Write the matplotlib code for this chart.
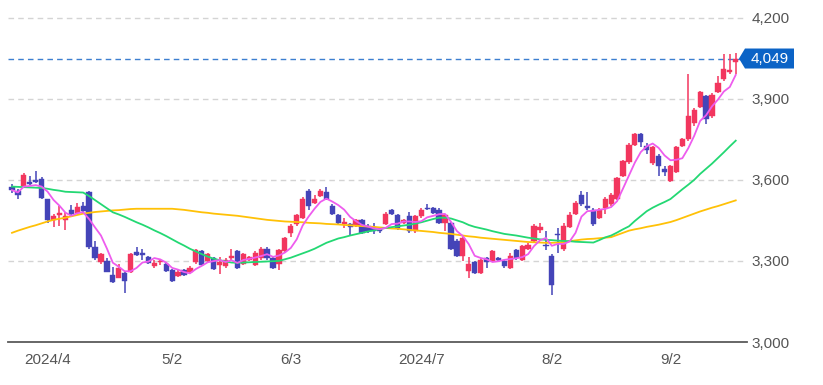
import matplotlib
matplotlib.use("Agg")
import matplotlib.pyplot as plt
import numpy as np
import pandas as pd
from matplotlib.patches import Polygon
from matplotlib.transforms import blended_transform_factory

# ---------------- data ----------------
opens = [3572, 3560, 3578, 3592, 3600, 3604, 3528, 3452, 3470, 3452,
         3488, 3478, 3505, 3555, 3350, 3295, 3300, 3248, 3237, 3255,
         3258, 3332, 3328, 3315, 3280, 3295, 3290, 3265, 3245, 3265,
         3258, 3295, 3335, 3300, 3310, 3285, 3280, 3310, 3335, 3290,
         3305, 3285, 3310, 3345, 3310, 3290, 3335, 3405, 3435, 3460,
         3560, 3515, 3540, 3555, 3505, 3470, 3438, 3435, 3430, 3450,
         3430, 3425, 3420, 3437, 3488, 3470, 3440, 3465, 3410, 3465,
         3497, 3495, 3490, 3440, 3440, 3375, 3317, 3262, 3295, 3255,
         3310, 3300, 3310, 3300, 3275, 3340, 3305, 3345, 3375, 3415,
         3360, 3320, 3400, 3345, 3425, 3475, 3545, 3505, 3490, 3460,
         3495, 3510, 3530, 3615, 3665, 3730, 3770, 3725, 3663, 3690,
         3640, 3597, 3630, 3725, 3750, 3810, 3870, 3910, 3835, 3925,
         3975, 4000, 4035]
highs = [3585, 3565, 3625, 3615, 3634, 3610, 3530, 3472, 3505, 3480,
         3508, 3515, 3518, 3560, 3375, 3330, 3310, 3278, 3288, 3262,
         3328, 3352, 3345, 3320, 3305, 3305, 3295, 3270, 3265, 3270,
         3280, 3345, 3340, 3330, 3315, 3315, 3310, 3345, 3340, 3330,
         3320, 3335, 3350, 3350, 3315, 3345, 3390, 3435, 3475, 3535,
         3565, 3545, 3565, 3575, 3510, 3475, 3460, 3440, 3455, 3455,
         3435, 3440, 3425, 3480, 3492, 3475, 3455, 3482, 3470, 3495,
         3510, 3500, 3495, 3475, 3445, 3380, 3390, 3315, 3300, 3310,
         3315, 3340, 3315, 3305, 3330, 3345, 3360, 3365, 3435, 3440,
         3410, 3325, 3420, 3440, 3480, 3520, 3560, 3555, 3495, 3495,
         3535, 3550, 3610, 3675, 3735, 3775, 3775, 3735, 3725, 3695,
         3650, 3655, 3725, 3755, 3990, 3865, 3930, 3915, 3920, 3985,
         4065, 4065, 4070]
lows = [3550, 3528, 3575, 3580, 3590, 3530, 3440, 3425, 3430, 3415,
        3470, 3475, 3480, 3345, 3305, 3288, 3258, 3218, 3235, 3182,
        3255, 3318, 3305, 3290, 3275, 3285, 3260, 3222, 3240, 3245,
        3255, 3290, 3280, 3295, 3265, 3250, 3275, 3305, 3270, 3285,
        3300, 3280, 3305, 3305, 3270, 3265, 3330, 3390, 3430, 3455,
        3490, 3510, 3535, 3525, 3470, 3435, 3420, 3395, 3425, 3400,
        3405, 3400, 3405, 3432, 3470, 3415, 3435, 3405, 3405, 3460,
        3488, 3472, 3435, 3410, 3340, 3315, 3300, 3238, 3250, 3250,
        3275, 3295, 3300, 3275, 3270, 3305, 3300, 3340, 3370, 3405,
        3340, 3175, 3330, 3335, 3420, 3470, 3505, 3490, 3430, 3455,
        3475, 3505, 3525, 3610, 3660, 3725, 3720, 3695, 3655, 3615,
        3615, 3592, 3625, 3720, 3745, 3800, 3865, 3805, 3830, 3920,
        3965, 3990, 3990]
closes = [3562, 3545, 3618, 3585, 3593, 3534, 3452, 3465, 3478, 3465,
          3475, 3500, 3485, 3350, 3310, 3325, 3260, 3222, 3275, 3227,
          3325, 3322, 3322, 3292, 3292, 3300, 3262, 3225, 3260, 3248,
          3275, 3342, 3285, 3325, 3270, 3295, 3305, 3318, 3275, 3325,
          3315, 3330, 3345, 3310, 3275, 3340, 3385, 3430, 3470, 3530,
          3505, 3530, 3558, 3530, 3475, 3440, 3445, 3425, 3450, 3405,
          3412, 3410, 3410, 3475, 3475, 3420, 3450, 3410, 3465, 3490,
          3492, 3477, 3440, 3470, 3345, 3320, 3385, 3290, 3255, 3305,
          3295, 3335, 3305, 3280, 3320, 3310, 3355, 3360, 3430, 3425,
          3355, 3210, 3395, 3430, 3470, 3515, 3510, 3497, 3435, 3490,
          3530, 3545, 3605, 3670, 3730, 3770, 3740, 3710, 3722, 3650,
          3630, 3650, 3720, 3750, 3835, 3860, 3925, 3825, 3915, 3960,
          4010, 4008, 4049]

ma25 = [3575, 3574, 3573, 3572, 3571, 3570, 3567, 3563, 3560, 3556,
        3555, 3554, 3553, 3540, 3525, 3510, 3495, 3480, 3472, 3463,
        3453, 3443, 3434, 3424, 3413, 3403, 3392, 3380, 3368, 3357,
        3345, 3335, 3325, 3316, 3308, 3303, 3298, 3294, 3293, 3294,
        3295, 3296, 3297, 3298, 3299, 3300, 3306, 3312, 3320, 3328,
        3336, 3345, 3356, 3367, 3375, 3383, 3388, 3394, 3399, 3404,
        3409, 3413, 3418, 3422, 3425, 3428, 3431, 3434, 3438, 3443,
        3449, 3455, 3460, 3460, 3457, 3450, 3443, 3433, 3426, 3421,
        3416, 3410, 3405, 3400, 3397, 3394, 3390, 3386, 3383, 3380,
        3378, 3377, 3375, 3374, 3373, 3371, 3370, 3369, 3368, 3377,
        3387, 3394, 3405, 3417, 3428, 3448, 3466, 3484, 3497, 3508,
        3518, 3529, 3547, 3565, 3582, 3600, 3622, 3641, 3660, 3681,
        3702, 3724, 3745]
ma75 = [3404, 3412, 3419, 3426, 3432, 3439, 3446, 3452, 3456, 3460,
        3465, 3470, 3475, 3478, 3481, 3483, 3485, 3487, 3488, 3490,
        3492, 3493, 3493, 3493, 3493, 3493, 3493, 3493, 3491, 3489,
        3486, 3483, 3480, 3478, 3475, 3473, 3471, 3469, 3467, 3464,
        3461, 3458, 3455, 3452, 3450, 3448, 3446, 3445, 3444, 3443,
        3441, 3440, 3439, 3437, 3436, 3435, 3433, 3432, 3430, 3429,
        3427, 3426, 3424, 3422, 3420, 3419, 3417, 3415, 3413, 3411,
        3409, 3407, 3404, 3402, 3400, 3397, 3394, 3391, 3389, 3386,
        3384, 3382, 3380, 3378, 3376, 3374, 3372, 3370, 3369, 3368,
        3367, 3367, 3368, 3370, 3373, 3376, 3379, 3381, 3382, 3384,
        3386, 3388, 3396, 3404, 3412, 3417, 3421, 3426, 3430, 3434,
        3439, 3444, 3451, 3459, 3467, 3475, 3483, 3490, 3497, 3503,
        3510, 3517, 3524]

tick_idx = [6, 27, 47, 69, 91, 111]
tick_labels = ["2024/4", "5/2", "6/3", "2024/7", "8/2", "9/2"]
y_ticks = [3000, 3300, 3600, 3900, 4200]
last_price = closes[-1]

# ---------------- styling ----------------
UP = "#f2365e"
DOWN = "#4444b8"
C_MA5 = "#ee5cee"
C_MA25 = "#23d873"
C_MA75 = "#ffc107"
TXT = "#555555"
FONT = ["Liberation Sans", "DejaVu Sans"]
plt.rcParams["font.family"] = FONT

W, H = 823, 385
fig = plt.figure(figsize=(W / 100, H / 100), dpi=100)
ax = fig.add_axes([8 / W, (H - 342) / H, (747 - 8) / W, 337 / H])

o = np.array(opens, float)
h = np.array(highs, float)
l = np.array(lows, float)
c = np.array(closes, float)
x = np.arange(len(c))
up = c >= o
colors = np.where(up, UP, DOWN)

# wicks
ax.vlines(x, l, h, colors=colors, linewidth=1.1, zorder=2)
# bodies
bottom = np.minimum(o, c)
height = np.maximum(np.abs(c - o), 3.0)
ax.bar(x, height, bottom=bottom, width=0.88, color=colors, edgecolor=colors,
       linewidth=0.3, zorder=3)

# moving averages
ma5 = pd.Series(c).rolling(5, min_periods=1).mean().values
ax.plot(x, ma75, color=C_MA75, lw=1.3, zorder=4)
ax.plot(x, ma25, color=C_MA25, lw=1.3, zorder=4)
ax.plot(x, ma5, color=C_MA5, lw=1.3, zorder=5)

ax.set_xlim(-0.67, 123.9)
ax.set_ylim(3000, 4247)

# grid
for v in y_ticks[1:]:
    ax.axhline(v, color="#d4d4d4", lw=1.0, ls=(0, (4, 3)), zorder=1)

# last price line
ax.axhline(last_price, color="#3d7fd0", lw=1.0, ls=(0, (4, 3)), zorder=1)

for s in ["top", "right", "left"]:
    ax.spines[s].set_visible(False)
ax.spines["bottom"].set_color("#5a5a5a")
ax.spines["bottom"].set_linewidth(1.3)

ax.yaxis.tick_right()
ax.set_yticks(y_ticks)
ax.set_yticklabels([f"{v:,}" for v in y_ticks])
ax.tick_params(axis="y", length=0, pad=3, labelsize=11, labelcolor=TXT)
ax.set_xticks(tick_idx)
ax.set_xticklabels(tick_labels)
ax.tick_params(axis="x", length=0, pad=8, labelsize=11, labelcolor=TXT)

# price tag
tr = blended_transform_factory(fig.transFigure, ax.transData)
dy = 10 / 0.2703
pts = [(739 / W, last_price), (745 / W, last_price + dy), (794 / W, last_price + dy),
       (794 / W, last_price - dy), (745 / W, last_price - dy)]
ax.add_patch(Polygon(pts, closed=True, transform=tr, facecolor="#0b63c6",
                     edgecolor="none", clip_on=False, zorder=6))
ax.text(751 / W, last_price, f"{last_price:,}", transform=tr, color="white",
        fontsize=11, va="center", ha="left", zorder=7, clip_on=False)

fig.savefig("out.png", dpi=100)
